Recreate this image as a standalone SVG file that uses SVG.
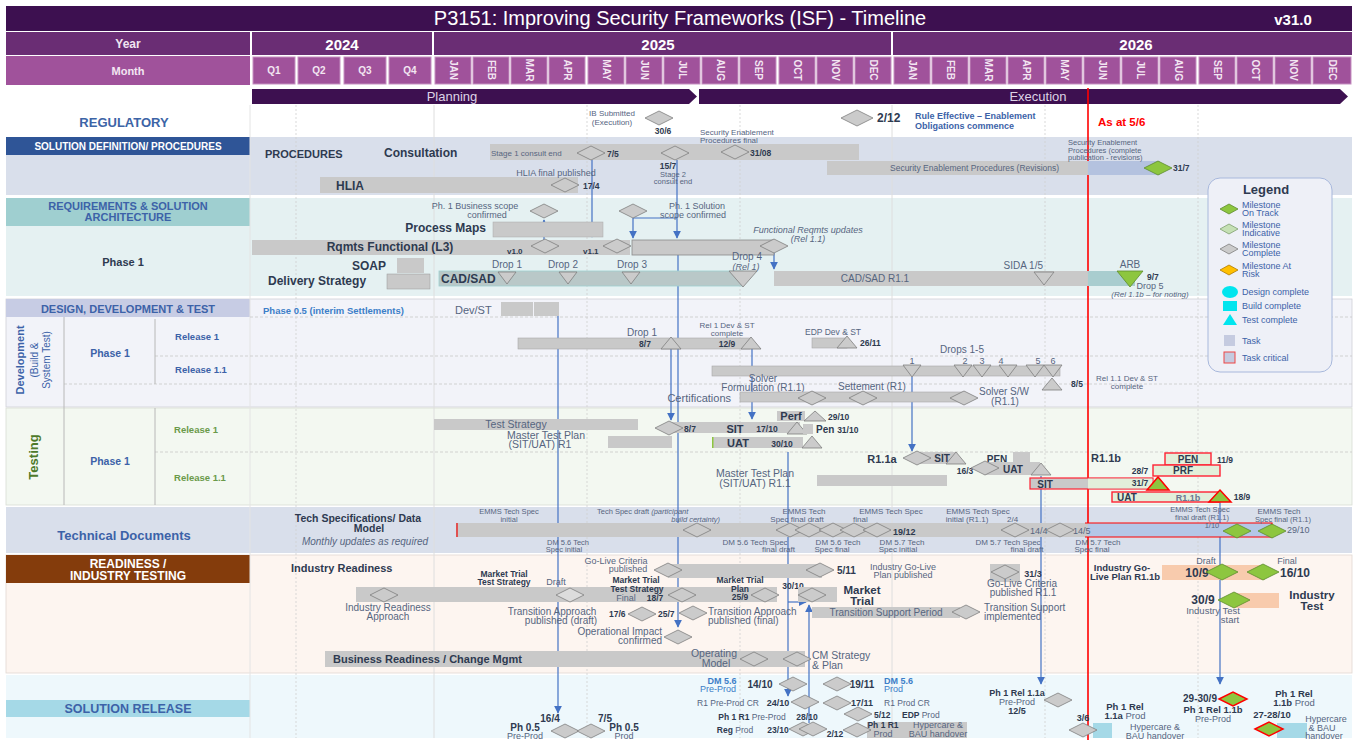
<svg xmlns="http://www.w3.org/2000/svg" width="1362" height="740" viewBox="0 0 1362 740">
<style>
text{font-family:"Liberation Sans",Arial,sans-serif}
.s7{font-size:7.5px;fill:#56657f}
.s8{font-size:8px;fill:#56657f}
.s9{font-size:9px;fill:#56657f}
.s10{font-size:10px;fill:#56657f}
.b8{font-size:8.5px;font-weight:bold;fill:#2e3a50}
.b10{font-size:10px;font-weight:bold;fill:#2e3a50}
.b11{font-size:11px;font-weight:bold;fill:#2e3a50}
.b12{font-size:12px;font-weight:bold;fill:#2e3a50}
.bl{fill:#3c62a8}
.lb{fill:#3c7ec8}
.c{text-anchor:middle}
.e{text-anchor:end}
.i{font-style:italic}
.n{font-weight:normal}
.w{fill:#fff}
.mo{font-size:10px;font-weight:bold;fill:#f3e6f2;text-anchor:middle}
.gd{fill:#cbcbcb;stroke:#7f7f7f;stroke-width:.8}
.gn{fill:#8dc63f;stroke:#5d8c2d;stroke-width:.8}
.gr{fill:#8dc63f;stroke:#f00;stroke-width:1.5}
.bar{fill:#c9c9c9}
.bx{fill:#c9c9c9;stroke:#a8a8a8;stroke-width:.6}
.crit{fill:#e2efda;stroke:#f23;stroke-width:1.4}
.cn{fill:none;stroke:#4472c4;stroke-width:1.2}
.gl{stroke:#cfcfcf;stroke-width:.8;stroke-dasharray:2 2}
.hl{stroke:#c8c8c8;stroke-width:.8;stroke-dasharray:3 2}
.lg{font-size:9px;fill:#3c62a8}
</style>
<defs>
<path id="dm" d="M-14,0L0,-7L14,0L0,7Z"/>
<path id="dmL" d="M-16,0L0,-8L16,0L0,8Z"/>
<path id="tdn" d="M-9,-6H9L0,6Z"/>
<path id="tup" d="M-10,6H10L0,-6Z"/>
<marker id="ar" viewBox="0 0 10 10" refX="9" refY="5" markerWidth="8" markerHeight="8" markerUnits="userSpaceOnUse" orient="auto"><path d="M0,0L10,5L0,10Z" fill="#4472c4"/></marker>
</defs>
<rect width="1362" height="740" fill="#fff"/>

<!-- HEADER -->
<g id="header">
<rect x="6" y="6" width="1346" height="25" fill="#3d1050"/>
<text x="680" y="25" class="c" style="font-size:20px;fill:#fff">P3151: Improving Security Frameworks (ISF) - Timeline</text>
<text x="1293" y="25" class="c" style="font-size:15px;font-weight:bold;fill:#fff">v31.0</text>
<rect x="6" y="32" width="244" height="23" fill="#6a2d74"/>
<rect x="252" y="32" width="180" height="23" fill="#6a2d74"/>
<rect x="434" y="32" width="457" height="23" fill="#6a2d74"/>
<rect x="893" y="32" width="459" height="23" fill="#6a2d74"/>
<text x="128" y="48" class="c" style="font-size:12px;font-weight:bold;fill:#f0e4f0">Year</text>
<text x="342" y="50" class="c" style="font-size:15px;font-weight:bold;fill:#fff">2024</text>
<text x="658" y="50" class="c" style="font-size:15px;font-weight:bold;fill:#fff">2025</text>
<text x="1136" y="50" class="c" style="font-size:15px;font-weight:bold;fill:#fff">2026</text>
<rect x="6" y="56" width="244" height="29" fill="#a0529b"/>
<text x="128" y="75" class="c" style="font-size:11px;font-weight:bold;fill:#f3e6f2">Month</text>
<g fill="#a0529b" stroke="#c590c0" stroke-width="1">
<rect x="253" y="57" width="42" height="27"/><rect x="298" y="57" width="42" height="27"/><rect x="344" y="57" width="42" height="27"/><rect x="389" y="57" width="42" height="27"/>
<rect x="435" y="57" width="36" height="27"/><rect x="473" y="57" width="36" height="27"/><rect x="511" y="57" width="36" height="27"/><rect x="549" y="57" width="36" height="27"/><rect x="588" y="57" width="36" height="27"/><rect x="626" y="57" width="36" height="27"/><rect x="664" y="57" width="36" height="27"/><rect x="702" y="57" width="36" height="27"/><rect x="740" y="57" width="36" height="27"/><rect x="779" y="57" width="36" height="27"/><rect x="817" y="57" width="36" height="27"/><rect x="855" y="57" width="36" height="27"/>
<rect x="894" y="57" width="36" height="27"/><rect x="932" y="57" width="36" height="27"/><rect x="970" y="57" width="36" height="27"/><rect x="1008" y="57" width="36" height="27"/><rect x="1046" y="57" width="36" height="27"/><rect x="1084" y="57" width="36" height="27"/><rect x="1122" y="57" width="36" height="27"/><rect x="1160" y="57" width="36" height="27"/><rect x="1199" y="57" width="36" height="27"/><rect x="1237" y="57" width="36" height="27"/><rect x="1275" y="57" width="36" height="27"/><rect x="1313" y="57" width="38" height="27"/>
</g>
<g style="font-size:10px;font-weight:bold;fill:#f3e6f2" text-anchor="middle">
<text x="274" y="74">Q1</text><text x="319" y="74">Q2</text><text x="365" y="74">Q3</text><text x="410" y="74">Q4</text>
</g>
<g class="mo">
<text transform="translate(453,70) rotate(90)" dy="3.5">JAN</text>
<text transform="translate(491,70) rotate(90)" dy="3.5">FEB</text>
<text transform="translate(529,70) rotate(90)" dy="3.5">MAR</text>
<text transform="translate(567,70) rotate(90)" dy="3.5">APR</text>
<text transform="translate(606,70) rotate(90)" dy="3.5">MAY</text>
<text transform="translate(644,70) rotate(90)" dy="3.5">JUN</text>
<text transform="translate(682,70) rotate(90)" dy="3.5">JUL</text>
<text transform="translate(720,70) rotate(90)" dy="3.5">AUG</text>
<text transform="translate(758,70) rotate(90)" dy="3.5">SEP</text>
<text transform="translate(797,70) rotate(90)" dy="3.5">OCT</text>
<text transform="translate(835,70) rotate(90)" dy="3.5">NOV</text>
<text transform="translate(873,70) rotate(90)" dy="3.5">DEC</text>
<text transform="translate(912,70) rotate(90)" dy="3.5">JAN</text>
<text transform="translate(950,70) rotate(90)" dy="3.5">FEB</text>
<text transform="translate(988,70) rotate(90)" dy="3.5">MAR</text>
<text transform="translate(1026,70) rotate(90)" dy="3.5">APR</text>
<text transform="translate(1064,70) rotate(90)" dy="3.5">MAY</text>
<text transform="translate(1102,70) rotate(90)" dy="3.5">JUN</text>
<text transform="translate(1140,70) rotate(90)" dy="3.5">JUL</text>
<text transform="translate(1178,70) rotate(90)" dy="3.5">AUG</text>
<text transform="translate(1217,70) rotate(90)" dy="3.5">SEP</text>
<text transform="translate(1255,70) rotate(90)" dy="3.5">OCT</text>
<text transform="translate(1293,70) rotate(90)" dy="3.5">NOV</text>
<text transform="translate(1332,70) rotate(90)" dy="3.5">DEC</text>
</g>
<path d="M252,89H689L697,96.5L689,104H252Z" fill="#3d1050"/>
<path d="M699,89H1340L1348,96.5L1340,104H699Z" fill="#3d1050"/>
<text x="452" y="101" class="c" style="font-size:13px;fill:#ddd3e6">Planning</text>
<text x="1038" y="101" class="c" style="font-size:13px;fill:#ddd3e6">Execution</text>
</g>

<!-- SECTION BACKGROUNDS -->
<g id="sections">
<rect x="6" y="137" width="1346" height="58" fill="#d9dfeb"/>
<rect x="6" y="137" width="244" height="18" fill="#2f5597"/>
<rect x="6" y="198" width="1346" height="98" fill="#e5f1f2"/>
<rect x="6" y="198" width="244" height="28" fill="#9fcfd0"/>
<rect x="6" y="299" width="1346" height="108" fill="#f2f3f9" stroke="#d0d0d8" stroke-width=".8"/>
<rect x="6" y="299" width="244" height="18" fill="#c7cce4"/>
<rect x="6" y="408" width="1346" height="97" fill="#f3f8f1" stroke="#d8dcd4" stroke-width=".8"/>
<rect x="6" y="507" width="1346" height="46" fill="#d9dfeb"/>
<rect x="6" y="555" width="1346" height="118" fill="#fdf5f0" stroke="#e0d8d2" stroke-width=".8"/>
<rect x="6" y="555" width="244" height="28" fill="#843c0c"/>
<rect x="6" y="675" width="1346" height="63" fill="#eef8fc"/>
<rect x="6" y="700" width="244" height="17" fill="#a5d9e7"/>
<line x1="250" y1="105" x2="250" y2="738" stroke="#e4e4e4"/>
<line x1="434" y1="105" x2="434" y2="738" stroke="#dedede"/>
<line x1="892" y1="105" x2="892" y2="738" stroke="#dedede"/>
<line x1="296" y1="105" x2="296" y2="738" class="gl"/>
<line x1="587" y1="105" x2="587" y2="738" class="gl"/>
<line x1="740" y1="105" x2="740" y2="738" class="gl"/>
<line x1="1045" y1="105" x2="1045" y2="738" class="gl"/>
<line x1="1198" y1="105" x2="1198" y2="738" class="gl"/>
<line x1="250" y1="317" x2="1352" y2="317" class="hl"/>
<line x1="155" y1="356" x2="1352" y2="356" class="hl"/>
<line x1="64" y1="384" x2="1352" y2="384" class="hl"/>
<line x1="155" y1="452" x2="1352" y2="452" class="hl"/>
<line x1="64" y1="317" x2="64" y2="505" stroke="#b8b8b8"/>
<line x1="155" y1="319" x2="155" y2="384" stroke="#b8b8b8"/>
<line x1="155" y1="408" x2="155" y2="505" stroke="#b8b8b8"/>
</g>

<!-- LEFT LABELS -->
<g id="labels">
<text x="124" y="127" class="c" style="font-size:13px;font-weight:bold" fill="#3c64a6">REGULATORY</text>
<text x="128" y="150" class="c w" style="font-size:10px;font-weight:bold">SOLUTION DEFINITION/ PROCEDURES</text>
<text x="128" y="210" class="c bl" style="font-size:11px;font-weight:bold">REQUIREMENTS &amp; SOLUTION</text>
<text x="128" y="221" class="c bl" style="font-size:11px;font-weight:bold">ARCHITECTURE</text>
<text x="123" y="266" class="c b11" fill="#44546a">Phase 1</text>
<text x="128" y="313" class="c bl" style="font-size:11px;font-weight:bold">DESIGN, DEVELOPMENT &amp; TEST</text>
<text transform="translate(24,360) rotate(-90)" class="c bl" style="font-size:11px;font-weight:bold">Development</text>
<text transform="translate(38,360) rotate(-90)" class="c bl" style="font-size:10px">(Build &amp;</text>
<text transform="translate(50,360) rotate(-90)" class="c bl" style="font-size:10px">System Test)</text>
<text x="110" y="357" class="c bl" style="font-size:10.5px;font-weight:bold">Phase 1</text>
<text x="197" y="340" class="c bl" style="font-size:9.5px;font-weight:bold">Release 1</text>
<text x="201" y="373" class="c bl" style="font-size:9.5px;font-weight:bold">Release 1.1</text>
<text transform="translate(38,457) rotate(-90)" class="c" style="font-size:13px;font-weight:bold;fill:#4e7a2a">Testing</text>
<text x="110" y="465" class="c bl" style="font-size:10.5px;font-weight:bold">Phase 1</text>
<text x="196" y="433" class="c" style="font-size:9.5px;font-weight:bold;fill:#6a9a4a">Release 1</text>
<text x="200" y="481" class="c" style="font-size:9.5px;font-weight:bold;fill:#6a9a4a">Release 1.1</text>
<text x="124" y="540" class="c bl" style="font-size:13px;font-weight:bold">Technical Documents</text>
<text x="128" y="568" class="c w" style="font-size:12px;font-weight:bold">READINESS /</text>
<text x="128" y="580" class="c w" style="font-size:12px;font-weight:bold">INDUSTRY TESTING</text>
<text x="128" y="713" class="c bl" style="font-size:12.5px;font-weight:bold">SOLUTION RELEASE</text>
</g>

<!-- CONNECTORS -->
<g id="connectors">
<path class="cn" d="M544,240V220" marker-end="url(#ar)"/>
<path class="cn" d="M592,160V237" marker-end="url(#ar)"/>
<path class="cn" d="M633,218H677"/>
<path class="cn" d="M633,218V238" marker-end="url(#ar)"/>
<path class="cn" d="M677,160V238" marker-end="url(#ar)"/>
<path class="cn" d="M678,255V627" marker-end="url(#ar)"/>
<path class="cn" d="M774,253V269" marker-end="url(#ar)"/>
<path class="cn" d="M558,316V713" marker-end="url(#ar)"/>
<path class="cn" d="M671,349V420" marker-end="url(#ar)"/>
<path class="cn" d="M752,349V419" marker-end="url(#ar)"/>
<path class="cn" d="M912,377V451" marker-end="url(#ar)"/>
<path class="cn" d="M788,452V696" marker-end="url(#ar)"/>
<path class="cn" d="M788,602H806" marker-end="url(#ar)"/>
<path class="cn" d="M809,723V605" marker-end="url(#ar)"/>
<path class="cn" d="M1041,476V684" marker-end="url(#ar)"/>
<path class="cn" d="M1220,503V684" marker-end="url(#ar)"/>
</g>

<!-- REGULATORY -->
<g id="reg-ib"><text x="612" y="116" class="s8 c">IB Submitted</text><text x="612" y="124.5" class="s8 c">(Execution)</text><use href="#dm" x="659" y="118" class="gd"/><text x="663" y="134" class="b8 c">30/6</text></g>
<g id="reg-rule"><use href="#dmL" x="857" y="118" class="gd"/><text x="877" y="122" class="b12">2/12</text><text x="915" y="119" class="bl" style="font-size:9px;font-weight:bold">Rule Effective – Enablement</text><text x="915" y="128.5" class="bl" style="font-size:9px;font-weight:bold">Obligations commence</text></g>
<g id="asat"><line x1="1088" y1="88" x2="1088" y2="740" stroke="#f00" stroke-width="1.6"/><text x="1098" y="126" style="font-size:11.5px;font-weight:bold;fill:#f00">As at 5/6</text></g>

<!-- SOLUTION DEFINITION -->
<g id="sd-consult">
<text x="265" y="158" class="b11" fill="#333f50">PROCEDURES</text>
<text x="384" y="157" class="b12">Consultation</text>
<rect x="490" y="144" width="369" height="16" class="bar"/>
<text x="491" y="156" class="s8">Stage 1 consult end</text>
<use href="#dm" x="591" y="153" class="gd"/><text x="607" y="157" class="b8">7/5</text>
<use href="#dm" x="675" y="153" class="gd"/>
<text x="668" y="168.5" class="b8 c">15/7</text><text x="673" y="176.5" class="s7 c">Stage 2</text><text x="673" y="184" class="s7 c">consult end</text>
<text x="700" y="135" class="s8">Security Enablement</text><text x="700" y="143" class="s8">Procedures final</text>
<use href="#dm" x="735" y="152" class="gd"/><text x="750" y="156" class="b8">31/08</text>
</g>
<g id="sd-revisions">
<rect x="827" y="161" width="261" height="14" class="bar"/>
<rect x="1088" y="161" width="72" height="14" fill="#b4c2df"/>
<text x="890" y="171" class="s8" style="font-size:8.5px">Security Enablement Procedures (Revisions)</text>
<text x="1068" y="145" class="s7">Security Enablement</text><text x="1068" y="152.5" class="s7">Procedures (complete</text><text x="1068" y="160" class="s7">publication - revisions)</text>
<use href="#dm" x="1158" y="168" class="gn"/><text x="1173" y="171" class="b8">31/7</text>
</g>
<g id="sd-hlia">
<rect x="320" y="177" width="258" height="16" class="bar"/>
<text x="336" y="190" class="b12">HLIA</text>
<text x="556" y="176" class="s9 c">HLIA final published</text>
<use href="#dm" x="565" y="185" class="gd"/><text x="583" y="189" class="b8">17/4</text>
</g>

<!-- REQUIREMENTS -->
<g id="rq-scope">
<text x="475" y="209" class="s9 c">Ph. 1 Business scope</text><text x="487" y="217.5" class="s9 c">confirmed</text>
<use href="#dm" x="544" y="211" class="gd"/>
<use href="#dm" x="633" y="211" class="gd"/>
<text x="697" y="209" class="s9 c">Ph. 1 Solution</text><text x="693" y="217.5" class="s9 c">scope confirmed</text>
</g>
<g id="rq-maps"><text x="486" y="232" class="b12 e">Process Maps</text><rect x="493" y="222" width="110" height="15" class="bar" stroke="#aaa" stroke-width=".5"/></g>
<g id="rq-func">
<rect x="252" y="240" width="378" height="15" class="bar"/>
<text x="390" y="251" class="b12 c">Rqmts Functional (L3)</text>
<text x="507" y="254" class="b8" style="font-size:8px">v1.0</text><use href="#dm" x="545" y="246" class="gd"/>
<text x="583" y="254" class="b8" style="font-size:8px">v1.1</text><use href="#dm" x="617" y="246" class="gd"/>
<rect x="632" y="240" width="142" height="15" class="bar" stroke="#8a8a8a" stroke-width=".8"/>
<use href="#dm" x="774" y="246" class="gd"/>
<text x="808" y="233" class="s9 c i">Functional Reqmts updates</text><text x="808" y="242" class="s9 c i">(Rel 1.1)</text>
</g>
<g id="rq-soap"><text x="352" y="270" class="b12">SOAP</text><rect x="397" y="258" width="27" height="15" class="bar"/></g>
<g id="rq-deliv"><text x="268" y="285" class="b12">Delivery Strategy</text><rect x="387" y="274" width="43" height="15" class="bar" stroke="#999" stroke-width=".5"/></g>
<g id="rq-cadsad">
<rect x="439" y="271" width="304" height="15" fill="#b9c8c8" stroke="#9ecfd0" stroke-width=".8"/>
<text x="441" y="283" class="b12">CAD/SAD</text>
<text x="507" y="268" class="s10 c">Drop 1</text><use href="#tdn" x="507" y="278" class="gd"/>
<text x="563" y="268" class="s10 c">Drop 2</text><use href="#tdn" x="568" y="278" class="gd"/>
<text x="632" y="268" class="s10 c">Drop 3</text><use href="#tdn" x="631" y="278" class="gd"/>
<text x="747" y="260" class="s10 c">Drop 4</text><text x="746" y="269.5" class="s9 c i">(Rel 1)</text>
<path d="M729,271H757L743,287Z" class="gd"/>
</g>
<g id="rq-cadsad11">
<rect x="774" y="271" width="314" height="15" class="bar"/>
<rect x="1088" y="271" width="47" height="15" fill="#a9cdcf"/>
<text x="875" y="282" class="s10 c">CAD/SAD R1.1</text>
<text x="1043" y="269" class="s10 e">SIDA 1/5</text><path d="M1034,272H1054L1044,285Z" class="gd"/>
<text x="1130" y="268" class="s10 c">ARB</text><path d="M1117,271H1143L1130,287Z" class="gn"/>
<text x="1147" y="280" class="b8">9/7</text>
<text x="1150" y="289" class="s9 c">Drop 5</text>
<text x="1150" y="297" class="s8 c i">(Rel 1.1b – for noting)</text>
</g>

<!-- LEGEND -->
<g id="legend">
<rect x="1208" y="178" width="124" height="194" rx="12" fill="#eef0f7" stroke="#a8b8dc"/>
<text x="1266" y="194" class="c" style="font-size:13px;font-weight:bold;fill:#2e3a50">Legend</text>
<path d="M1220,209L1229,204L1238,209L1229,214Z" class="gn"/>
<text x="1242" y="207.5" class="lg">Milestone</text><text x="1242" y="216" class="lg">On Track</text>
<path d="M1220,229L1229,224L1238,229L1229,234Z" fill="#c5e0b4" stroke="#7f9f6f" stroke-width=".8"/>
<text x="1242" y="227.5" class="lg">Milestone</text><text x="1242" y="236" class="lg">Indicative</text>
<path d="M1220,249L1229,244L1238,249L1229,254Z" class="gd"/>
<text x="1242" y="247.5" class="lg">Milestone</text><text x="1242" y="256" class="lg">Complete</text>
<path d="M1220,270L1229,265L1238,270L1229,275Z" fill="#ffc000" stroke="#b07a00" stroke-width=".8"/>
<text x="1242" y="268.5" class="lg">Milestone At</text><text x="1242" y="277" class="lg">Risk</text>
<ellipse cx="1230" cy="292" rx="8" ry="6" fill="#00e5ee"/>
<text x="1242" y="295" class="lg">Design complete</text>
<rect x="1223" y="301" width="14" height="10" fill="#00e5ee"/>
<text x="1242" y="309" class="lg">Build complete</text>
<path d="M1223,325H1237L1230,314Z" fill="#00e5ee"/>
<text x="1242" y="323" class="lg">Test complete</text>
<rect x="1224" y="335" width="11" height="11" fill="#c5cbe0"/>
<text x="1242" y="344" class="lg">Task</text>
<rect x="1224" y="352" width="11" height="11" fill="#c5cbe0" stroke="#e44" stroke-width="1"/>
<text x="1242" y="361" class="lg">Task critical</text>
</g>

<!-- DESIGN DEV -->
<g id="dd-ph05">
<text x="263" y="314" class="lb" style="font-size:9.5px;font-weight:bold">Phase 0.5 (interim Settlements)</text>
<text x="455" y="314" class="s10" style="font-size:11px">Dev/ST</text>
<rect x="501" y="302" width="32" height="14" class="bar"/><rect x="534" y="302" width="25" height="14" class="bar"/>
</g>
<g id="dd-r1">
<rect x="518" y="338" width="232" height="11" class="bx"/>
<text x="642" y="336" class="s10 c">Drop 1</text><text x="645" y="347" class="b8 c">8/7</text>
<use href="#tup" x="671" y="343" class="gd"/>
<text x="727" y="328" class="s8 c">Rel 1 Dev &amp; ST</text><text x="727" y="336" class="s8 c">complete</text>
<text x="727" y="347" class="b8 c">12/9</text>
<use href="#tup" x="751" y="343" class="gd"/>
</g>
<g id="dd-edp">
<text x="833" y="335" class="s8 c" style="font-size:8.5px">EDP Dev &amp; ST</text>
<rect x="812" y="338" width="35" height="10" class="bx"/><use href="#tup" x="847" y="342" class="gd"/>
<text x="860" y="346" class="b8">26/11</text>
</g>
<g id="dd-r11">
<rect x="712" y="366" width="348" height="10" class="bx"/>
<text x="962" y="353" class="s10 c">Drops 1-5</text>
<g class="s9 c"><text x="912" y="364">1</text><text x="965" y="364">2</text><text x="982" y="364">3</text><text x="1001" y="364">4</text><text x="1038" y="364">5</text><text x="1053" y="364">6</text></g>
<use href="#tdn" x="912" y="371" class="gd"/><use href="#tdn" x="963" y="371" class="gd"/><use href="#tdn" x="982" y="371" class="gd"/><use href="#tdn" x="1008" y="371" class="gd"/><use href="#tdn" x="1035" y="371" class="gd"/><use href="#tdn" x="1053" y="371" class="gd"/>
<use href="#tup" x="1052" y="384" class="gd"/>
<text x="1077" y="387" class="b8 c">8/5</text>
<text x="1127" y="381" class="s8 c">Rel 1.1 Dev &amp; ST</text><text x="1127" y="389" class="s8 c">complete</text>
</g>
<g id="dd-solver">
<text x="763" y="382" class="s10 c">Solver</text><text x="763" y="391" class="s10 c">Formulation (R1.1)</text>
<text x="872" y="390" class="s10 c">Settement (R1)</text>
<text x="731" y="402" class="s10 e" style="font-size:11px">Certifications</text>
<rect x="740" y="392" width="225" height="10" class="bx"/>
<use href="#dm" x="812" y="398" class="gd"/><use href="#dm" x="863" y="398" class="gd"/><use href="#dm" x="964" y="398" class="gd"/>
<text x="1004" y="395" class="s10 c">Solver S/W</text><text x="1005" y="404.5" class="s10 c">(R1.1)</text>
</g>

<!-- TESTING -->
<g id="ts-r1">
<rect x="434" y="419" width="204" height="11" class="bar"/>
<text x="516" y="428" class="s10 c" style="font-size:10.5px">Test Strategy</text>
<rect x="608" y="436" width="64" height="12" class="bar"/>
<text x="546" y="438.5" class="s10 c" style="font-size:10.5px">Master Test Plan</text><text x="540" y="448" class="s10 c" style="font-size:10.5px">(SIT/UAT) R1</text>
<rect x="672" y="422" width="128" height="11" class="bar"/>
<use href="#dm" x="669" y="428" class="gd"/>
<text x="690" y="432" class="b8 c">8/7</text>
<text x="735" y="433" class="b11 c">SIT</text>
<text x="767" y="432" class="b8 c">17/10</text>
<use href="#tup" x="797" y="428" class="gd"/>
<rect x="803" y="424" width="10" height="10" class="bar"/>
<text x="816" y="433" class="b10">Pen <tspan style="font-size:8.5px">31/10</tspan></text>
<rect x="777" y="411" width="28" height="10" class="bar"/>
<text x="791" y="420" class="b11 c">Perf</text>
<path d="M804,421H826L815,411Z" class="gd"/>
<text x="828" y="420" class="b8">29/10</text>
<rect x="712" y="437" width="91" height="11" class="bar"/>
<rect x="712" y="437" width="1.5" height="11" fill="#8dc63f"/>
<text x="738" y="447" class="b11 c">UAT</text>
<text x="782" y="447" class="b8 c">30/10</text>
<use href="#tup" x="812" y="442" class="gd"/>
</g>
<g id="ts-r11">
<text x="755" y="477" class="s10 c" style="font-size:10.5px">Master Test Plan</text><text x="755" y="487" class="s10 c" style="font-size:10.5px">(SIT/UAT) R1.1</text>
<rect x="817" y="475" width="130" height="11" class="bar"/>
<text x="882" y="463" class="b11 c">R1.1a</text>
<rect x="920" y="452" width="36" height="12" class="bar"/>
<use href="#dm" x="917" y="458" class="gd"/>
<text x="942" y="462" class="b10 c">SIT</text>
<use href="#tup" x="956" y="458" class="gd"/>
<text x="997" y="463" class="b10 c">PEN</text>
<rect x="1013" y="452" width="17" height="12" class="bar"/>
<rect x="985" y="462" width="55" height="13" class="bar"/>
<text x="965" y="474" class="b8 c">16/3</text>
<use href="#dm" x="985" y="468" class="gd"/>
<text x="1013" y="473" class="b10 c">UAT</text>
<use href="#tup" x="1041" y="469" class="gd"/>
</g>
<g id="ts-r11b">
<rect x="1030" y="478" width="123" height="11" fill="#c9c9c9" stroke="#f23" stroke-width="1.2"/>
<rect x="1088" y="478.6" width="64.4" height="9.8" fill="#e2efda"/>
<text x="1045" y="488" class="b10 c">SIT</text>
<text x="1140" y="486" class="b8 c">31/7</text>
<path d="M1147,490H1169L1158,477Z" class="gr"/>
<text x="1106" y="462" class="b11 c">R1.1b</text>
<rect x="1165" y="453" width="46" height="12" class="crit"/>
<text x="1188" y="463" class="b10 c">PEN</text>
<text x="1225" y="463" class="b8 c">11/9</text>
<text x="1140" y="474" class="b8 c">28/7</text>
<rect x="1153" y="465" width="67" height="11" class="crit"/>
<text x="1183" y="474" class="b10 c">PRF</text>
<rect x="1112" y="492" width="108" height="10" class="crit"/>
<text x="1127" y="501" class="b10 c">UAT</text>
<text x="1188" y="501" class="s9 c" style="font-weight:bold;fill:#6a7690">R1.1b</text>
<path d="M1209,502H1231L1220,490Z" class="gr"/>
<text x="1242" y="500" class="b8 c">18/9</text>
</g>

<!-- TECH DOCS -->
<g id="td-spec">
<text x="358" y="522" class="b11 c" style="font-size:10.5px">Tech Specifications/ Data</text>
<text x="369" y="532" class="b11 c" style="font-size:10.5px">Model</text>
<text x="365" y="545" class="s10 c i" fill="#3a4a68">Monthly updates as required</text>
<rect x="456" y="523" width="632" height="14" class="bar"/>
<rect x="456" y="523" width="2" height="14" fill="#e05050"/>
<rect x="1088" y="523" width="184" height="14" fill="#b4c7e7"/>
<path d="M1085,523H1272V537H1085" fill="none" stroke="#f00" stroke-width="1.2"/>
<text x="509" y="514" class="s7 c">EMMS Tech Spec</text><text x="509" y="521.5" class="s7 c">initial</text>
<text x="597" y="514" class="s7">Tech Spec draft <tspan class="i">(participant</tspan></text><text x="720" y="521.5" class="s7 e i">build certainty)</text>
<use href="#dm" x="697" y="530" class="gd"/>
<text x="804" y="514" class="s8 c">EMMS Tech</text><text x="797" y="521.5" class="s8 c">Spec final draft</text>
<use href="#dm" x="790" y="530" class="gd"/><use href="#dm" x="809" y="530" class="gd"/><use href="#dm" x="833" y="530" class="gd"/><use href="#dm" x="854" y="530" class="gd"/><use href="#dm" x="877" y="530" class="gd"/>
<text x="891" y="514" class="s8 c">EMMS Tech Spec</text><text x="853" y="521.5" class="s8">final</text>
<text x="893" y="535" class="b8" style="font-size:9px">19/12</text>
<text x="978" y="514" class="s8 c">EMMS Tech Spec</text><text x="967" y="521.5" class="s8 c">initial (R1.1)</text><text x="1007" y="521.5" class="s8">2/4</text>
<use href="#dm" x="1015" y="530" class="gd"/><text x="1030" y="534" class="s9">14/4</text>
<use href="#dm" x="1060" y="530" class="gd"/><text x="1073" y="534" class="s9">14/5</text>
<text x="1200" y="512" class="s7 c">EMMS Tech Spec</text><text x="1202" y="519.5" class="s7 c">final draft (R1.1)</text>
<text x="1212" y="528" class="s7 c">1/10</text>
<use href="#dm" x="1237" y="531" class="gn"/><use href="#dm" x="1272" y="531" class="gn"/>
<text x="1279" y="514" class="s8 c">EMMS Tech</text><text x="1283" y="521.5" class="s7 c">Spec final (R1.1)</text>
<text x="1287" y="533" class="s9">29/10</text>
<text x="568" y="544.5" class="s7 c">DM 5.6 Tech</text><text x="564" y="552" class="s7 c">Spec initial</text>
<text x="755" y="544.5" class="s8 c">DM 5.6 Tech Spec</text><text x="795" y="552" class="s8 e">final draft</text>
<text x="838" y="544.5" class="s8 c">DM 5.6 Tech</text><text x="832" y="552" class="s8 c">Spec final</text>
<text x="902" y="544.5" class="s8 c">DM 5.7 Tech</text><text x="898" y="552" class="s8 c">Spec initial</text>
<text x="1008" y="544.5" class="s8 c">DM 5.7 Tech Spec</text><text x="1027" y="552" class="s8 c">final draft</text>
<text x="1098" y="544.5" class="s8 c">DM 5.7 Tech</text><text x="1092" y="552" class="s8 c">Spec final</text>
</g>

<!-- READINESS -->
<g id="rd-industry">
<text x="291" y="572" class="b11">Industry Readiness</text>
<rect x="668" y="564" width="154" height="14" class="bar"/>
<text x="616" y="563.5" class="s9 c">Go-Live Criteria</text><text x="628" y="572" class="s9 c">published</text>
<use href="#dm" x="668" y="570" class="gd"/>
<use href="#dm" x="820" y="570" class="gd"/><text x="837" y="574" class="b10">5/11</text>
<text x="903" y="569.5" class="s9 c">Industry Go-Live</text><text x="903" y="578" class="s9 c">Plan published</text>
<rect x="356" y="587" width="421" height="15" class="bar"/>
<use href="#dm" x="384" y="595" class="gd"/>
<text x="388" y="611" class="s10 c">Industry Readiness</text><text x="388" y="620" class="s10 c">Approach</text>
<text x="504" y="577" class="b8 c">Market Trial</text><text x="504" y="585" class="b8 c">Test Strategy</text>
<text x="556" y="585" class="s9 c">Draft</text>
<path d="M556,595L570,588L584,595L570,602Z" fill="#dcdcdc" stroke="#7f7f7f" stroke-width=".8"/>
<text x="636" y="583" class="b8 c">Market Trial</text><text x="637" y="591.5" class="b8 c">Test Strategy</text>
<text x="626" y="601" class="s9 c">Final</text><text x="655" y="601" class="b8 c">18/7</text>
<use href="#dm" x="682" y="595" class="gd"/>
<text x="740" y="583" class="b8 c">Market Trial</text><text x="740" y="591.5" class="b8 c">Plan</text><text x="740" y="600" class="b8 c">25/9</text>
<use href="#dm" x="765" y="595" class="gd"/>
<text x="793" y="589" class="b8 c">30/10</text>
<rect x="798" y="587" width="39" height="15" class="bar"/>
<use href="#dm" x="812" y="595" class="gd"/>
<text x="862" y="594" class="b12 c" style="font-size:11.5px">Market</text><text x="862" y="605" class="b12 c" style="font-size:11.5px">Trial</text>
</g>
<g id="rd-transition">
<text x="552" y="615" class="s10 c">Transition Approach</text><text x="561" y="624" class="s10 c">published (draft)</text>
<text x="609" y="617" class="b8">17/6</text><use href="#dm" x="642" y="614" class="gd"/>
<text x="658" y="617" class="b8">25/7</text><use href="#dm" x="693" y="613" class="gd"/>
<text x="708" y="615" class="s10">Transition Approach</text><text x="708" y="624" class="s10">published (final)</text>
<text x="662" y="635" class="s10 e">Operational Impact</text><text x="662" y="644" class="s10 e">confirmed</text>
<use href="#dm" x="678" y="637" class="gd"/>
<rect x="812" y="607" width="148" height="11" class="bar"/>
<text x="886" y="616" class="s10 c">Transition Support Period</text>
<use href="#dm" x="966" y="612" class="gd"/>
<text x="984" y="611" class="s10">Transition Support</text><text x="984" y="620" class="s10">implemented</text>
</g>
<g id="rd-golive11">
<rect x="990" y="564" width="30" height="18" class="bar"/>
<use href="#dm" x="1005" y="572" class="gd"/>
<text x="1033" y="577" class="b8 c" style="font-size:9px">31/3</text>
<text x="1022" y="587" class="s10 c">Go-Live Criteria</text><text x="1023" y="596" class="s10 c">published R1.1</text>
</g>
<g id="rd-golive11b">
<text x="1122" y="571" class="b10 c" style="font-size:9.5px">Industry Go-</text><text x="1125" y="580" class="b10 c" style="font-size:9.5px">Live Plan R1.1b</text>
<rect x="1162" y="565" width="103" height="15" fill="#f8cbad"/>
<text x="1206" y="563.5" class="s9 c">Draft</text>
<text x="1197" y="577" class="b12 c">10/9</text>
<use href="#dmL" x="1222" y="572" class="gn"/>
<use href="#dmL" x="1263" y="572" class="gn"/>
<text x="1287" y="563.5" class="s9 c">Final</text>
<text x="1280" y="577" class="b12">16/10</text>
</g>
<g id="rd-indtest">
<text x="1203" y="604" class="b12 c">30/9</text>
<rect x="1234" y="593" width="45" height="15" fill="#f8cbad"/>
<use href="#dmL" x="1234" y="600" class="gn"/>
<text x="1312" y="599" class="b12 c" style="font-size:11.5px">Industry</text><text x="1312" y="610" class="b12 c" style="font-size:11.5px">Test</text>
<text x="1213" y="614" class="s9 c" style="font-size:9.5px">Industry Test</text><text x="1230" y="623" class="s9 c" style="font-size:9.5px">start</text>
</g>
<g id="rd-business">
<rect x="325" y="651" width="480" height="16" class="bar"/>
<text x="333" y="663" class="b11">Business Readiness / Change Mgmt</text>
<text x="714" y="657" class="s10 c" style="font-size:10.5px">Operating</text><text x="716" y="667" class="s10 c" style="font-size:10.5px">Model</text>
<use href="#dm" x="754" y="659" class="gd"/><use href="#dm" x="797" y="659" class="gd"/>
<text x="812" y="659" class="s10" style="font-size:10.5px">CM Strategy</text><text x="812" y="669" class="s10" style="font-size:10.5px">&amp; Plan</text>
</g>

<!-- SOLUTION RELEASE -->
<g id="sr-ph05">
<text x="550" y="722" class="b10 c">16/4</text>
<text x="525" y="731" class="b10 c">Ph 0.5</text><text x="525" y="739" class="s9 c">Pre-Prod</text>
<use href="#dm" x="565" y="731" class="gd"/><use href="#dm" x="591" y="731" class="gd"/>
<text x="605" y="722" class="b10 c">7/5</text>
<text x="624" y="731" class="b10 c">Ph 0.5</text><text x="624" y="739" class="s9 c">Prod</text>
</g>
<g id="sr-r1">
<text x="722" y="683.5" class="lb c" style="font-size:9px;font-weight:bold">DM 5.6</text><text x="718" y="692" class="lb c" style="font-size:9px">Pre-Prod</text>
<text x="760" y="688" class="b10 c">14/10</text><use href="#dm" x="793" y="684" class="gd"/>
<text x="728" y="706" class="s8 c" style="font-size:8.5px">R1 Pre-Prod CR</text>
<text x="778" y="706" class="b8 c" style="font-size:9px">24/10</text><use href="#dm" x="805" y="702" class="gd"/>
<text x="752" y="720" class="b8 c">Ph 1 R1 <tspan class="n" fill="#56657f">Pre-Prod</tspan></text>
<text x="807" y="720" class="b8 c">28/10</text>
<text x="735" y="733" class="b8 c">Reg <tspan class="n" fill="#56657f">Prod</tspan></text>
<text x="778" y="733" class="b8 c">23/10</text>
<use href="#dm" x="803" y="729" class="gd"/><use href="#dm" x="813" y="729" class="gd"/>
<text x="835" y="737" class="b8 c">2/12</text>
<rect x="867" y="722" width="100" height="16" class="bar"/>
<use href="#dm" x="857" y="730" class="gd"/>
<text x="883" y="728" class="b8 c">Ph 1 R1</text><text x="883" y="737" class="s9 c">Prod</text>
<text x="938" y="728" class="s9 c">Hypercare &amp;</text><text x="938" y="737" class="s9 c">BAU handover</text>
<use href="#dm" x="837" y="684" class="gd"/><text x="862" y="688" class="b10 c">19/11</text>
<text x="884" y="683.5" class="lb" style="font-size:9px;font-weight:bold">DM 5.6</text><text x="884" y="692" class="lb" style="font-size:9px">Prod</text>
<use href="#dm" x="837" y="703" class="gd"/><text x="862" y="706" class="b8 c" style="font-size:9px">17/11</text>
<text x="884" y="706" class="s8" style="font-size:8.5px">R1 Prod CR</text>
<use href="#dm" x="858" y="714" class="gd"/><text x="874" y="718" class="b8">5/12</text>
<text x="902" y="718" class="b8">EDP <tspan class="n" fill="#56657f">Prod</tspan></text>
</g>
<g id="sr-r11a">
<text x="1017" y="696" class="b8 c" style="font-size:9px">Ph 1 Rel 1.1a</text><text x="1017" y="705" class="s9 c">Pre-Prod</text><text x="1017" y="714" class="b8 c" style="font-size:9px">12/5</text>
<use href="#dm" x="1058" y="700" class="gd"/>
<text x="1083" y="721" class="b8 c" style="font-size:9px">3/6</text>
<rect x="1093" y="723" width="19" height="15" fill="#a5d9e7"/>
<use href="#dm" x="1083" y="730" class="gd"/>
<text x="1125" y="710" class="b10 c" style="font-size:9.5px">Ph 1 Rel</text><text x="1125" y="719" class="b10 c" style="font-size:9.5px">1.1a <tspan class="n" fill="#56657f">Prod</tspan></text>
<text x="1155" y="729.5" class="s9 c">Hypercare &amp;</text><text x="1155" y="738.5" class="s9 c">BAU handover</text>
</g>
<g id="sr-r11b">
<text x="1200" y="702" class="b10 c">29-30/9</text>
<use href="#dm" x="1233" y="699" class="gr"/>
<text x="1213" y="713" class="b10 c" style="font-size:9.5px">Ph 1 Rel 1.1b</text><text x="1213" y="722" class="s9 c">Pre-Prod</text>
<text x="1294" y="697" class="b10 c" style="font-size:9.5px">Ph 1 Rel</text><text x="1294" y="706" class="b10 c" style="font-size:9.5px">1.1b <tspan class="n" fill="#56657f">Prod</tspan></text>
<text x="1272" y="718" class="b10 c" style="font-size:9.5px">27-28/10</text>
<rect x="1277" y="723" width="30" height="15" fill="#a5d9e7"/>
<use href="#dm" x="1269" y="729" class="gr"/>
<text x="1326" y="722" class="s9 c">Hypercare</text><text x="1322" y="730.5" class="s9 c">&amp; BAU</text><text x="1324" y="739" class="s9 c">handover</text>
</g>
</svg>
